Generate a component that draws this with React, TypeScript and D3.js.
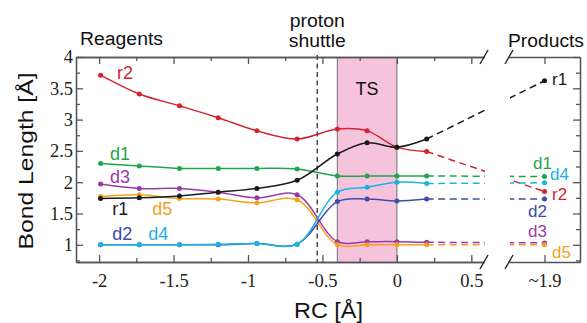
import React, { useEffect, useRef } from 'react';
import * as d3 from 'd3';

// reaction coordinate of each sampled point
const rc = [-1.99, -1.73, -1.46, -1.2, -0.94, -0.67, -0.4, -0.2, 0, 0.2];

// bond lengths (Angstrom) along the path
const r1 = [1.74, 1.75, 1.78, 1.84, 1.9, 2.03, 2.45, 2.63, 2.56, 2.69];
const r2 = [3.71, 3.41, 3.22, 3.03, 2.82, 2.69, 2.85, 2.82, 2.56, 2.49];
const d1 = [2.3, 2.26, 2.22, 2.22, 2.22, 2.21, 2.1, 2.1, 2.1, 2.1];
const d2 = [1.0, 1.0, 1.0, 1.0, 1.02, 1.01, 1.69, 1.73, 1.7, 1.73];
const d3v = [1.97, 1.9, 1.9, 1.84, 1.75, 1.8, 1.05, 1.05, 1.05, 1.04];
const d4 = [1.0, 1.0, 1.0, 1.01, 1.02, 1.01, 1.84, 1.92, 2.0, 1.98];
const d5 = [1.77, 1.8, 1.74, 1.73, 1.67, 1.72, 1.0, 1.0, 1.0, 1.0];

// product values, plotted at RC ~1.9
const productRC = 1.9;
const products = { r1: 3.62, r2: 1.85, d1: 2.09, d2: 1.73, d3: 1.03, d4: 1.99, d5: 1.0 };

// axis ticks
const xMajor = [-2, -1.5, -1, -0.5, 0, 0.5];
const xMinor = [-1.75, -1.25, -0.75, -0.25, 0.25];
const yMajor = [1, 1.5, 2, 2.5, 3, 3.5, 4];
const yMinor = [0.75, 1.25, 1.75, 2.25, 2.75, 3.25, 3.75];

const tsRange = [-0.4, 0];
const shuttleRC = -0.535;

// label positions in data units
const leftLabels = [
  { name: 'r2', x: -1.88, y: 3.648 },
  { name: 'd1', x: -1.926, y: 2.354 },
  { name: 'd3', x: -1.926, y: 1.987 },
  { name: 'r1', x: -1.912, y: 1.476 },
  { name: 'd5', x: -1.643, y: 1.476 },
  { name: 'd2', x: -1.912, y: 1.076 },
  { name: 'd4', x: -1.669, y: 1.076 },
];
const rightLabels = [
  { name: 'r1', x: 1.953, y: 3.553 },
  { name: 'd1', x: 1.819, y: 2.21 },
  { name: 'd4', x: 1.939, y: 2.035 },
  { name: 'r2', x: 1.953, y: 1.71 },
  { name: 'd2', x: 1.784, y: 1.444 },
  { name: 'd3', x: 1.784, y: 1.124 },
  { name: 'd5', x: 1.953, y: 0.789 },
];

const colors: Record<string, string> = {
  r1: '#1a1a1a',
  r2: '#d2232f',
  d1: '#1fa64c',
  d2: '#3b4caa',
  d3: '#9a3aa8',
  d4: '#1cb3e2',
  d5: '#f5a11c',
};

const series = [
  { name: 'r2', values: r2 },
  { name: 'd1', values: d1 },
  { name: 'd3', values: d3v },
  { name: 'd5', values: d5 },
  { name: 'd2', values: d2 },
  { name: 'd4', values: d4 },
  { name: 'r1', values: r1 },
];

const SANS = 'Liberation Sans, Arial, Helvetica, sans-serif';
const SERIF = 'Liberation Serif, Times New Roman, serif';

const App: React.FC = () => {
  const svgRef = useRef<SVGSVGElement>(null);

  useEffect(() => {
    if (!svgRef.current) return;
    const svg = d3.select(svgRef.current);
    svg.selectAll('*').remove();

    const top = 57;
    const bottom = 262;
    const left = 76;
    const breakL = 484;
    const breakR = 509;
    const right = 580;

    const x = d3.scaleLinear().domain([-2.155, 0.585]).range([left, breakL]);
    const xp = d3.scaleLinear().domain([1.65, 2.15]).range([breakR, right]);
    const y = d3.scaleLinear().domain([0.725, 4]).range([bottom, top]);

    // clip for the dashed links (skip the axis break)
    const defs = svg.append('defs');
    const clip = defs.append('clipPath').attr('id', 'panels');
    clip.append('rect').attr('x', left).attr('y', top).attr('width', breakL + 1 - left).attr('height', bottom - top);
    clip.append('rect').attr('x', breakR + 1).attr('y', top).attr('width', right - breakR - 1).attr('height', bottom - top);

    // TS band
    svg
      .append('rect')
      .attr('x', x(tsRange[0]))
      .attr('y', top)
      .attr('width', x(tsRange[1]) - x(tsRange[0]))
      .attr('height', bottom - top)
      .attr('fill', '#f6c3dc');
    tsRange.forEach(v => {
      svg
        .append('line')
        .attr('x1', x(v))
        .attr('x2', x(v))
        .attr('y1', top)
        .attr('y2', bottom)
        .attr('stroke', '#7a7a7a')
        .attr('stroke-width', 1.1);
    });

    // proton shuttle marker
    svg
      .append('line')
      .attr('x1', x(shuttleRC))
      .attr('x2', x(shuttleRC))
      .attr('y1', top - 2)
      .attr('y2', bottom)
      .attr('stroke', '#333')
      .attr('stroke-width', 1.3)
      .attr('stroke-dasharray', '5,3.5');

    // axes
    const styleAxis = (g: d3.Selection<SVGGElement, unknown, null, undefined>) => {
      g.selectAll('path, line').attr('stroke', '#555').attr('stroke-width', 1.3);
      g.selectAll('text').attr('fill', '#222').attr('font-family', SERIF).attr('font-size', 18.5);
    };
    const fmt = (d: d3.NumberValue) => String(d);

    const addX = (scale: d3.ScaleLinear<number, number>, ticks: number[], size: number, yPos: number, bottomSide: boolean, labels: ((d: d3.NumberValue) => string) | null) => {
      const ax = (bottomSide ? d3.axisBottom(scale) : d3.axisTop(scale))
        .tickValues(ticks)
        .tickSizeInner(-size)
        .tickSizeOuter(0)
        .tickPadding(12)
        .tickFormat(labels ? labels : () => '');
      svg.append('g').attr('transform', `translate(0,${yPos})`).call(ax).call(styleAxis);
    };
    const addY = (ticks: number[], size: number, xPos: number, leftSide: boolean, labels: boolean) => {
      const ax = (leftSide ? d3.axisLeft(y) : d3.axisRight(y))
        .tickValues(ticks)
        .tickSizeInner(-size)
        .tickSizeOuter(0)
        .tickPadding(3)
        .tickFormat(labels ? fmt : () => '');
      svg.append('g').attr('transform', `translate(${xPos},0)`).call(ax).call(styleAxis);
    };

    addX(x, xMajor, 7, bottom, true, fmt);
    addX(x, xMinor, 4, bottom, true, null);
    addX(x, xMajor, 7, top, false, null);
    addX(x, xMinor, 4, top, false, null);
    addX(xp, [productRC], 7, bottom, true, () => '~1.9');
    addX(xp, [productRC], 7, top, false, null);
    addY(yMajor, 7, left, true, true);
    addY(yMinor, 4, left, true, false);
    addY(yMajor, 7, right, false, false);
    addY(yMinor, 4, right, false, false);

    // axis break marks
    [breakL, breakR].forEach(bx => {
      [top, bottom].forEach(by => {
        svg
          .append('line')
          .attr('x1', bx - 4)
          .attr('y1', by + 7)
          .attr('x2', bx + 4)
          .attr('y2', by - 7)
          .attr('stroke', '#222')
          .attr('stroke-width', 1.4);
      });
    });

    const line = d3
      .line<number>()
      .x((_, i) => x(rc[i]))
      .y(d => y(d))
      .curve(d3.curveCatmullRom.alpha(0.5));

    const last = rc.length - 1;

    // dashed links to products
    series.forEach(s => {
      const p = (products as Record<string, number>)[s.name];
      svg
        .append('line')
        .attr('clip-path', 'url(#panels)')
        .attr('x1', x(rc[last]))
        .attr('y1', y(s.values[last]))
        .attr('x2', xp(productRC))
        .attr('y2', y(p))
        .attr('stroke', colors[s.name])
        .attr('stroke-width', 1.5)
        .attr('stroke-dasharray', '7,4.5');
    });

    // series lines and points
    series.forEach(s => {
      const c = colors[s.name];
      svg
        .append('path')
        .datum(s.values)
        .attr('d', line)
        .attr('fill', 'none')
        .attr('stroke', c)
        .attr('stroke-width', 1.5);
      svg
        .selectAll(null)
        .data(s.values)
        .enter()
        .append('circle')
        .attr('cx', (_, i) => x(rc[i]))
        .attr('cy', d => y(d))
        .attr('r', 2.5)
        .attr('fill', c);
      svg
        .append('circle')
        .attr('cx', xp(productRC))
        .attr('cy', y((products as Record<string, number>)[s.name]))
        .attr('r', 2.5)
        .attr('fill', c);
    });

    // series labels
    leftLabels.forEach(l => {
      svg
        .append('text')
        .attr('x', x(l.x))
        .attr('y', y(l.y))
        .attr('fill', colors[l.name])
        .attr('font-family', SANS)
        .attr('font-size', 18)
        .text(l.name);
    });
    rightLabels.forEach(l => {
      svg
        .append('text')
        .attr('x', xp(l.x))
        .attr('y', y(l.y))
        .attr('fill', colors[l.name])
        .attr('font-family', SANS)
        .attr('font-size', 17)
        .text(l.name);
    });

    // annotations
    const note = (t: string, tx: number, ty: number, anchor: string, len: number, size = 18) =>
      svg
        .append('text')
        .attr('x', tx)
        .attr('y', ty)
        .attr('text-anchor', anchor)
        .attr('font-family', SANS)
        .attr('font-size', size)
        .attr('fill', '#111')
        .attr('textLength', len)
        .attr('lengthAdjust', 'spacingAndGlyphs')
        .text(t);

    note('Reagents', 80, 45, 'start', 83);
    note('proton', x(shuttleRC), 27, 'middle', 55);
    note('shuttle', x(shuttleRC), 47, 'middle', 57);
    note('Products', 508, 47, 'start', 76);
    note('TS', (x(tsRange[0]) + x(tsRange[1])) / 2, 95, 'middle', 23);
    note('RC [Å]', 294, 318, 'start', 69, 22);

    svg
      .append('text')
      .attr('transform', 'translate(33,161) rotate(-90)')
      .attr('text-anchor', 'middle')
      .attr('font-family', SANS)
      .attr('font-size', 20)
      .attr('fill', '#111')
      .attr('textLength', 177)
      .attr('lengthAdjust', 'spacingAndGlyphs')
      .text('Bond Length [Å]');
  }, []);

  return (
    <svg
      ref={svgRef}
      width={587}
      height={323}
      style={{ position: 'absolute', left: 0, top: 0, background: '#fff' }}
    ></svg>
  );
};

export default App;
